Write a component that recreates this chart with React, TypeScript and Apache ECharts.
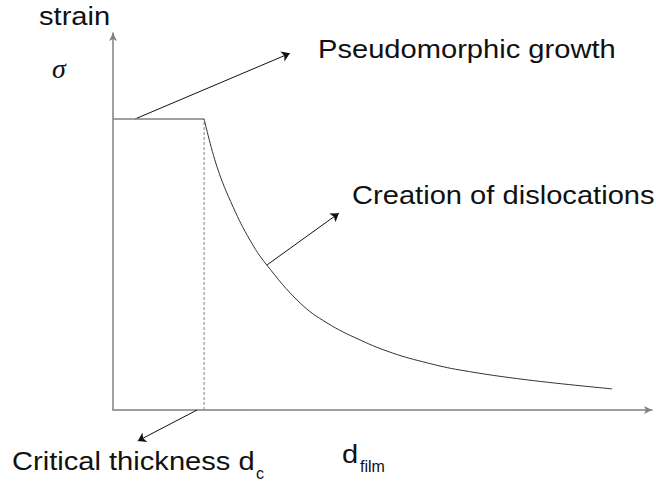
import React, { useEffect, useRef } from "react";
import * as echarts from "echarts";

// Plateau (pseudomorphic growth) level and critical thickness, in chart units
const plateauStrain = 77.2;
const criticalThickness = 16.9;

// Relaxation curve past the critical thickness: [d_film, strain]
const relaxationCurve: [number, number][] = [
  [16.9, 77.2],
  [19.3, 64.5],
  [22.3, 53.8],
  [25.4, 45.1],
  [28.4, 38.7],
  [34.7, 28.4],
  [39.7, 23.1],
  [45.8, 18.6],
  [51.9, 15.1],
  [58.3, 12.5],
  [64.4, 10.6],
  [76.8, 8.0],
  [92.6, 5.6],
];

// Annotation arrows: [from, to]
const arrowPseudomorphic: [number, number][] = [[4.1, 77.2], [32.8, 94.6]];
const arrowCreation: [number, number][] = [[28.6, 38.5], [41.9, 52.2]];
const arrowCritical: [number, number][] = [[15.6, 0], [4.6, -8.2]];

const labels = {
  yName: "strain",
  sigma: "σ",
  pseudo: "Pseudomorphic growth",
  creation: "Creation of dislocations",
  critical: "Critical thickness d",
  criticalSub: "c",
  xName: "d",
  xNameSub: "film",
};

export default function App() {
  const ref = useRef<HTMLDivElement>(null);
  useEffect(() => {
    if (!ref.current) return;
    const chart = echarts.init(ref.current, null, { renderer: "svg" });
    const axisGray = "#808080";
    const big = { fontFamily: "Liberation Sans, Arial, sans-serif", fontSize: 26, fill: "#111" };
    const small = { fontFamily: "Liberation Sans, Arial, sans-serif", fontSize: 16, fill: "#111" };
    const sx = 1.12;
    chart.setOption({
      animation: false,
      backgroundColor: "#fff",
      grid: { left: 113, right: 4, top: 33, bottom: 71 },
      xAxis: {
        type: "value",
        min: 0,
        max: 100,
        splitLine: { show: false },
        axisTick: { show: false },
        axisLabel: { show: false },
        axisLine: {
          lineStyle: { color: axisGray, width: 1.5 },
          symbol: ["none", "arrow"],
          symbolSize: [6, 8],
        },
      },
      yAxis: {
        type: "value",
        min: 0,
        max: 100,
        splitLine: { show: false },
        axisTick: { show: false },
        axisLabel: { show: false },
        axisLine: {
          lineStyle: { color: axisGray, width: 1.5 },
          symbol: ["none", "arrow"],
          symbolSize: [6, 8],
        },
      },
      series: [
        {
          type: "line",
          data: [
            [0, plateauStrain],
            [criticalThickness, plateauStrain],
          ],
          symbol: "none",
          lineStyle: { color: axisGray, width: 1.5 },
          clip: false,
        },
        {
          type: "line",
          data: [
            [criticalThickness, 0],
            [criticalThickness, plateauStrain],
          ],
          symbol: "none",
          lineStyle: { color: axisGray, width: 1, type: [3, 2] },
        },
        {
          type: "line",
          data: relaxationCurve,
          symbol: "none",
          smooth: 0.4,
          lineStyle: { color: "#333", width: 1 },
        },
        {
          type: "lines",
          coordinateSystem: "cartesian2d",
          clip: false,
          symbol: ["none", "arrow"],
          symbolSize: 8,
          lineStyle: { color: "#111", width: 1, opacity: 1 },
          data: [
            { coords: arrowPseudomorphic },
            { coords: arrowCreation },
            { coords: arrowCritical },
          ],
        },
      ],
      graphic: [
        { type: "text", x: 39, y: 29, scaleX: sx, style: { ...big, text: labels.yName, verticalAlign: "bottom" } },
        {
          type: "text",
          x: 52,
          y: 82,
          style: {
            text: labels.sigma,
            fontFamily: "Liberation Serif, serif",
            fontStyle: "italic",
            fontSize: 28,
            fill: "#111",
            verticalAlign: "bottom",
          },
        },
        { type: "text", x: 318, y: 62, scaleX: sx, style: { ...big, text: labels.pseudo, verticalAlign: "bottom" } },
        { type: "text", x: 352, y: 208, scaleX: sx, style: { ...big, text: labels.creation, verticalAlign: "bottom" } },
        { type: "text", x: 12, y: 474, scaleX: sx, style: { ...big, text: labels.critical, verticalAlign: "bottom" } },
        { type: "text", x: 256, y: 481, style: { ...small, text: labels.criticalSub, verticalAlign: "bottom" } },
        { type: "text", x: 342, y: 467, scaleX: sx, style: { ...big, text: labels.xName, verticalAlign: "bottom" } },
        { type: "text", x: 360, y: 474, style: { ...small, text: labels.xNameSub, verticalAlign: "bottom" } },
      ],
    });
    return () => chart.dispose();
  }, []);
  return (
    <div
      ref={ref}
      style={{ position: "absolute", left: 0, top: 0, width: 656, height: 481 }}
    />
  );
}
